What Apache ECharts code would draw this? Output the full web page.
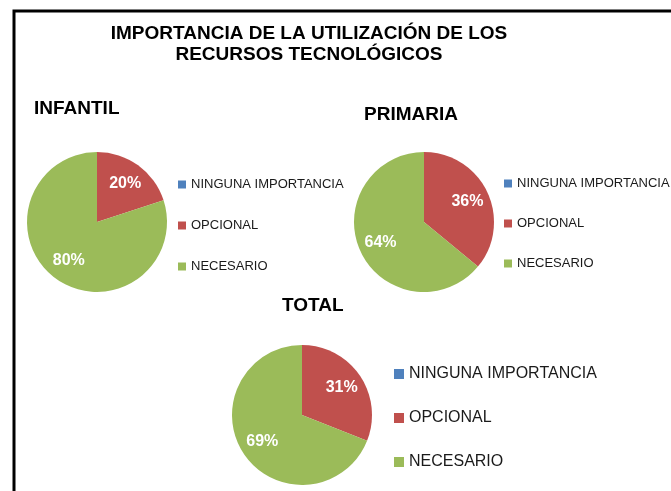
<!DOCTYPE html>
<html>
<head>
<meta charset="utf-8">
<script src="https://cdn.jsdelivr.net/npm/echarts@6/dist/echarts.min.js"></script>
<style>
    html, body { margin: 0; padding: 0; background: #fff; }
    #chart { width: 671px; height: 491px; }
</style>
</head>
<body>
<div id="chart"></div>
<script>
const categories = ['NINGUNA IMPORTANCIA', 'OPCIONAL', 'NECESARIO'];
const colors = ['#4F81BD', '#C0504D', '#9BBB59'];
const infantil = [0, 20, 80];
const primaria = [0, 36, 64];
const total = [0, 31, 69];

const font = '"Liberation Sans", Arial, sans-serif';

function toData(values) {
    return categories.map((name, i) => ({
        name: name,
        value: values[i],
        itemStyle: { color: colors[i] }
    }));
}

// pie with the slices, no labels
function slices(values, center) {
    return {
        type: 'pie',
        center: center,
        radius: [0, 70],
        startAngle: 90,
        silent: true,
        label: { show: false },
        labelLine: { show: false },
        data: toData(values)
    };
}

// invisible, wider pie that only carries the labels (puts them further out)
function labels(values, center) {
    return {
        type: 'pie',
        center: center,
        radius: [0, 90],
        startAngle: 90,
        silent: true,
        itemStyle: { color: 'transparent' },
        label: {
            show: true,
            position: 'inside',
            color: '#fff',
            fontFamily: font,
            fontWeight: 'bold',
            fontSize: 16,
            formatter: p => p.value ? p.value + '%' : ''
        },
        labelLine: { show: false },
        data: categories.map((name, i) => ({ name: name, value: values[i] }))
    };
}

function legend(left, top, size, fontSize, gap) {
    return {
        orient: 'vertical',
        left: left,
        top: top,
        padding: 0,
        icon: 'rect',
        itemWidth: size,
        itemHeight: size,
        itemGap: gap,
        selectedMode: false,
        data: categories,
        textStyle: { fontFamily: font, fontSize: fontSize, color: '#1a1a1a' }
    };
}

const chart = echarts.init(document.getElementById('chart'));
chart.setOption({
    animation: false,
    backgroundColor: '#fff',
    title: [
        {
            text: 'IMPORTANCIA DE LA UTILIZACIÓN DE LOS\nRECURSOS TECNOLÓGICOS',
            left: 309, top: 23, padding: 0, textAlign: 'center',
            textStyle: { fontFamily: font, fontSize: 19, fontWeight: 'bold', lineHeight: 21, color: '#000' }
        },
        {
            text: 'INFANTIL', left: 34, top: 99, padding: 0,
            textStyle: { fontFamily: font, fontSize: 19, fontWeight: 'bold', color: '#000' }
        },
        {
            text: 'PRIMARIA', left: 364, top: 105, padding: 0,
            textStyle: { fontFamily: font, fontSize: 19, fontWeight: 'bold', color: '#000' }
        },
        {
            text: 'TOTAL', left: 282, top: 296, padding: 0,
            textStyle: { fontFamily: font, fontSize: 19, fontWeight: 'bold', color: '#000' }
        }
    ],
    legend: [
        legend(178, 178, 8, 13, 28),
        legend(504, 177, 8, 13, 27),
        legend(394, 366, 10, 16, 28)
    ],
    graphic: [{
        type: 'rect',
        silent: true,
        shape: { x: 14, y: 11, width: 700, height: 520 },
        style: { fill: 'none', stroke: '#000', lineWidth: 3 }
    }],
    series: [
        slices(infantil, [97, 222]),
        slices(primaria, [424, 222]),
        slices(total, [302, 415]),
        labels(infantil, [97, 222]),
        labels(primaria, [424, 222]),
        labels(total, [302, 415])
    ]
});
</script>
</body>
</html>
